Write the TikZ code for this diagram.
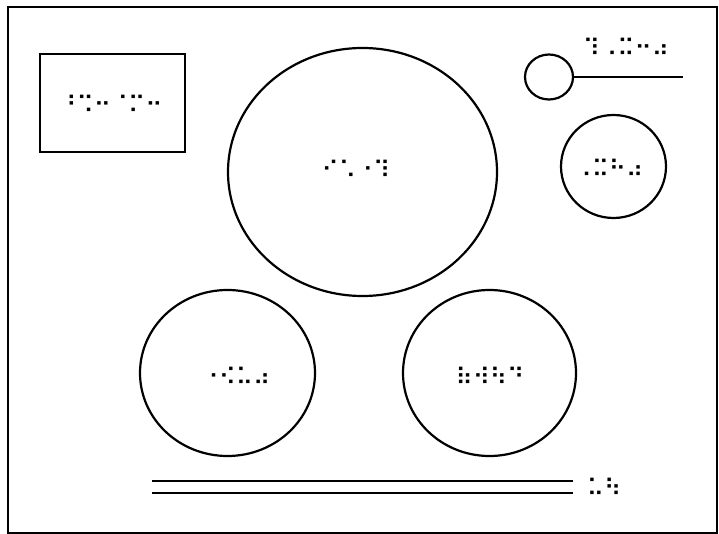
\documentclass[tikz,border=0pt]{standalone}
\usepackage{fontspec}
\newfontfamily\brl{DejaVu Sans}
\usetikzlibrary{shapes.geometric}
\begin{document}
\begin{tikzpicture}[x=1pt,y=-1pt,
  outline/.style={draw=black,line width=2.2pt},
  brltext/.style={font=\brl\fontsize{23.5}{23.5}\selectfont,inner sep=0pt}]
\useasboundingbox (0,0) rectangle (719,534);
\draw[outline] (8,7) rectangle (717,533);
% frame box
\node[outline,rectangle,minimum width=145pt,minimum height=98pt,inner sep=0pt] (box) at (112.5,103) {};
\node[brltext] (boxlbl) at (111,104) {⠘⠩⠒⠈⠍⠒};
% big ellipse
\node[outline,ellipse,minimum width=269pt,minimum height=248pt,inner sep=0pt] (big) at (362.5,172) {};
\node[brltext] (biglbl) at (356,169) {⠊⠡⠐⠹};
% small circle with line
\node[outline,ellipse,minimum width=48pt,minimum height=45pt,inner sep=0pt] (small) at (549,77) {};
\coordinate (lineend) at (683,77);
\draw[outline] (small.east) -- (lineend);
\node[brltext] (smalllbl) at (626,47) {⠹⠠⠭⠒⠴};
% right circle
\node[outline,ellipse,minimum width=105pt,minimum height=103pt,inner sep=0pt] (right) at (613.5,166.5) {};
\node[brltext] (rightlbl) at (609,168) {⠠⠭⠓⠴};
% bottom-left ellipse
\node[outline,ellipse,minimum width=175pt,minimum height=166pt,inner sep=0pt] (bl) at (227.5,373) {};
\node[brltext] (bllbl) at (236,376) {⠐⠪⠥⠴};
% bottom-right ellipse
\node[outline,ellipse,minimum width=173pt,minimum height=166pt,inner sep=0pt] (br) at (489.5,373) {};
\node[brltext] (brlbl) at (490,376) {⠷⠺⠳⠙};
% double line
\coordinate (l1a) at (152,481); \coordinate (l1b) at (573,481);
\coordinate (l2a) at (152,493); \coordinate (l2b) at (573,493);
\draw[outline] (l1a) -- (l1b);
\draw[outline] (l2a) -- (l2b);
\node[brltext] (linelbl) at (604,487) {⠥⠳};
\end{tikzpicture}
\end{document}
